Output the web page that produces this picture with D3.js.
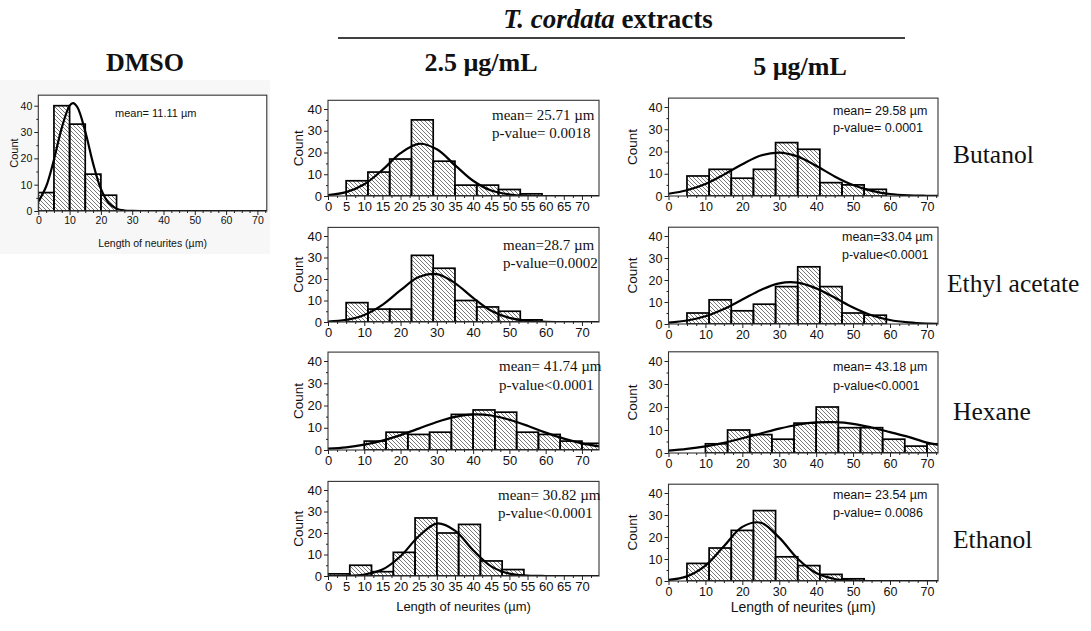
<!DOCTYPE html>
<html>
<head>
<meta charset="utf-8">
<script src="https://cdn.jsdelivr.net/npm/d3@7"></script>
<style>
  body { margin: 0; background: #fff; }
  text { fill: #111; }
</style>
</head>
<body>
<svg id="chart" width="1091" height="631"></svg>
<script>
// ---- data ----
const rowNames = ['Butanol', 'Ethyl acetate', 'Hexane', 'Ethanol'];

// fitted curve sample points (x in µm), one value per curveX
const curveX = [0, 5, 10, 15, 20, 25, 30, 35, 40, 45, 50, 55, 60, 65, 70, 75];

const dmsoBinStart = 0;
const dmsoBinWidth = 5;
const dmsoCounts = [7, 40, 33, 14, 6];
const dmsoCurveX = [0, 2.5, 5, 7.5, 10, 11.1, 12.5, 15, 17.5, 20, 22.5, 25, 27.5, 30, 35, 45, 55, 65, 75];
const dmsoCurveY = [3.5, 9.3, 19.5, 31.6, 40.0, 41.0, 39.4, 30.2, 18.1, 8.4, 3.0, 0.9, 0.2, 0.03, 0, 0, 0, 0, 0];
const dmsoMean = 'mean= 11.11 µm';

const binWidth = 6;

// 2.5 µg/mL
const binStarts25 = [5, 5, 10, 0];
const counts25 = [
  [7, 11, 17, 35, 16, 5, 5, 3, 1],
  [9, 6, 6, 31, 25, 10, 7, 5, 1],
  [4, 8, 7, 8, 16, 18, 17, 8, 7, 4, 3],
  [1, 5, 2, 11, 27, 20, 24, 7, 3]
];
const curves25 = [
  [0.4, 1.8, 5.4, 12.0, 19.7, 24.0, 21.5, 14.2, 7.0, 2.5, 0.7, 0.1, 0, 0, 0, 0],
  [0.2, 1.0, 3.3, 8.0, 14.8, 20.9, 22.3, 18.1, 11.2, 5.2, 1.9, 0.5, 0.1, 0, 0, 0],
  [0.6, 1.2, 2.4, 4.2, 6.7, 9.6, 12.6, 14.9, 16.0, 15.5, 13.6, 10.9, 7.8, 5.1, 3.0, 1.6],
  [0, 0.1, 0.7, 3.0, 9.2, 18.5, 24.4, 21.1, 12.0, 4.5, 1.1, 0.2, 0, 0, 0, 0]
];
const meanText25 = ['mean= 25.71 µm', 'mean=28.7 µm', 'mean= 41.74 µm', 'mean= 30.82 µm'];
const pText25 = ['p-value= 0.0018', 'p-value=0.0002', 'p-value<0.0001', 'p-value<0.0001'];

// 5 µg/mL
const binStarts5 = [5, 5, 10, 5];
const counts5 = [
  [9, 12, 8, 12, 24, 21, 6, 5, 3],
  [5, 11, 6, 9, 17, 26, 17, 5, 4],
  [4, 10, 8, 6, 13, 20, 11, 11, 6, 3, 4],
  [8, 15, 23, 32, 11, 7, 3, 1]
];
const curves5 = [
  [1.0, 2.6, 5.4, 9.6, 14.3, 18.2, 19.5, 17.7, 13.6, 8.8, 4.9, 2.3, 0.9, 0.3, 0.1, 0],
  [0.6, 1.6, 3.5, 6.8, 11.1, 15.5, 18.5, 18.8, 16.2, 12.0, 7.5, 4.0, 1.8, 0.7, 0.2, 0.1],
  [1.0, 1.8, 2.9, 4.4, 6.4, 8.5, 10.6, 12.3, 13.3, 13.4, 12.7, 11.1, 9.1, 7.0, 4.5, 3.0],
  [0.5, 2.1, 7.0, 15.8, 24.6, 26.5, 19.7, 10.1, 3.6, 0.9, 0.2, 0, 0, 0, 0, 0]
];
const meanText5 = ['mean= 29.58 µm', 'mean=33.04 µm', 'mean= 43.18 µm', 'mean= 23.54 µm'];
const pText5 = ['p-value= 0.0001', 'p-value<0.0001', 'p-value<0.0001', 'p-value= 0.0086'];

const yTicks = [0, 10, 20, 30, 40];
const xTicks5 = d3.range(0, 75, 5);
const xTicks10 = d3.range(0, 75, 10);

// ---- drawing ----
const svg = d3.select('#chart');
const SANS = 'Liberation Sans, Arial, sans-serif';
const SERIF = 'Liberation Serif, Times New Roman, serif';

const defs = svg.append('defs');
defs.append('pattern')
  .attr('id', 'hatch')
  .attr('patternUnits', 'userSpaceOnUse')
  .attr('width', 4).attr('height', 4)
  .append('path')
  .attr('d', 'M-1,-1L5,5M3,-1L5,1M-1,3L1,5')
  .attr('stroke', '#555').attr('stroke-width', 0.8);

let clipId = 0;

function drawPanel(o) {
  const x = d3.scaleLinear().domain([0, o.xMax]).range([o.left, o.right]);
  const y = d3.scaleLinear().domain([0, 40]).range([o.y0, o.y40]);
  const top = y(44);
  const g = svg.append('g');

  const cid = 'clip' + (clipId++);
  defs.append('clipPath').attr('id', cid)
    .append('rect')
    .attr('x', o.left).attr('y', top)
    .attr('width', o.right - o.left).attr('height', o.y0 - top);

  g.append('rect')
    .attr('x', o.left).attr('y', top)
    .attr('width', o.right - o.left).attr('height', o.y0 - top)
    .attr('fill', '#fff');

  const plot = g.append('g').attr('clip-path', 'url(#' + cid + ')');

  plot.selectAll('rect.bar')
    .data(o.counts)
    .join('rect')
    .attr('class', 'bar')
    .attr('x', (d, i) => x(o.binStart + i * o.binWidth))
    .attr('width', x(o.binWidth) - x(0))
    .attr('y', d => y(d))
    .attr('height', d => o.y0 - y(d))
    .attr('fill', 'url(#hatch)')
    .attr('stroke', '#000')
    .attr('stroke-width', 1.7);

  const line = d3.line()
    .x((d, i) => x(o.curveX[i]))
    .y(d => y(d))
    .curve(d3.curveCatmullRom.alpha(0.5));
  plot.append('path')
    .attr('d', line(o.curveY))
    .attr('fill', 'none')
    .attr('stroke', '#000')
    .attr('stroke-width', 2.2);

  // frame
  g.append('rect')
    .attr('x', o.left).attr('y', top)
    .attr('width', o.right - o.left).attr('height', o.y0 - top)
    .attr('fill', 'none')
    .attr('stroke', '#333').attr('stroke-width', 1.1);

  // x axis
  const xa = g.append('g').attr('transform', `translate(0,${o.y0})`)
    .call(d3.axisBottom(x).tickValues(o.xTicks).tickSize(4).tickSizeOuter(0).tickPadding(2).tickFormat(d3.format('d')));
  g.append('g').attr('transform', `translate(0,${o.y0})`)
    .call(d3.axisBottom(x).tickValues(d3.range(0, o.xMax, 2.5).filter(v => !o.xTicks.includes(v))).tickSize(2).tickSizeOuter(0).tickFormat(''))
    .call(a => a.select('.domain').remove());
  xa.select('.domain').remove();
  xa.selectAll('text').attr('font-family', SANS).attr('font-size', o.tickFont).attr('fill', '#111');

  // y axis
  const ya = g.append('g').attr('transform', `translate(${o.left},0)`)
    .call(d3.axisLeft(y).tickValues(yTicks).tickSize(4).tickSizeOuter(0).tickPadding(2));
  g.append('g').attr('transform', `translate(${o.left},0)`)
    .call(d3.axisLeft(y).tickValues([5, 15, 25, 35]).tickSize(2).tickFormat(''))
    .call(a => a.select('.domain').remove());
  ya.select('.domain').remove();
  ya.selectAll('text').attr('font-family', SANS).attr('font-size', o.tickFont).attr('fill', '#111');
  g.selectAll('.tick line').attr('stroke', '#222');

  // Count label
  g.append('text')
    .attr('transform', `translate(${o.countX},${(top + o.y0) / 2}) rotate(-90)`)
    .attr('text-anchor', 'middle')
    .attr('dominant-baseline', 'central')
    .attr('font-family', SANS)
    .attr('font-size', o.countFont)
    .text('Count');

  // annotation
  o.notes.forEach(n => {
    g.append('text')
      .attr('x', n.x).attr('y', n.y)
      .attr('font-family', n.font).attr('font-size', n.size)
      .text(n.text);
  });

  if (o.xTitle) {
    g.append('text')
      .attr('x', (o.left + o.right) / 2).attr('y', o.xTitle.y)
      .attr('text-anchor', 'middle')
      .attr('font-family', SANS).attr('font-size', o.xTitle.size)
      .text('Length of neurites (µm)');
  }
}

// DMSO panel background
svg.append('rect').attr('x', 0).attr('y', 80).attr('width', 270).attr('height', 174).attr('fill', '#f7f7f7');

drawPanel({
  left: 38.3, right: 38.3 + 73 * 3.13, xMax: 73, y0: 211, y40: 105.7,
  binStart: dmsoBinStart, binWidth: dmsoBinWidth, counts: dmsoCounts,
  curveX: dmsoCurveX, curveY: dmsoCurveY,
  xTicks: xTicks10, tickFont: 10.5, countX: 14, countFont: 11,
  notes: [{ x: 115, y: 117, text: dmsoMean, font: SANS, size: 11 }],
  xTitle: { y: 247, size: 10.5 }
});

const rows25 = [[109, 196], [236, 322], [361, 450], [490, 576]];
const rows5 = [[107, 196], [236, 324], [361, 453], [493, 581]];
const notePos25 = [[492, 120, 138], [503, 250, 268], [499, 371, 390], [498, 500, 518]];
const notePos5 = [[833, 115, 132], [842, 241, 259], [833, 371, 390], [833, 499, 517]];

rowNames.forEach((name, r) => {
  drawPanel({
    left: 328, right: 599, xMax: 74.7, y0: rows25[r][1], y40: rows25[r][0],
    binStart: binStarts25[r], binWidth: binWidth, counts: counts25[r],
    curveX: curveX, curveY: curves25[r],
    xTicks: (r === 0 || r === 3) ? xTicks5 : xTicks10, tickFont: 13, countX: 298, countFont: 13.5,
    notes: [
      { x: notePos25[r][0], y: notePos25[r][1], text: meanText25[r], font: SERIF, size: 15 },
      { x: notePos25[r][0], y: notePos25[r][2], text: pText25[r], font: SERIF, size: 15 }
    ],
    xTitle: r === 3 ? { y: 611, size: 13 } : null
  });
  drawPanel({
    left: 668.5, right: 938, xMax: 73, y0: rows5[r][1], y40: rows5[r][0],
    binStart: binStarts5[r], binWidth: binWidth, counts: counts5[r],
    curveX: curveX, curveY: curves5[r],
    xTicks: xTicks10, tickFont: 12.5, countX: 632, countFont: 13.5,
    notes: [
      { x: notePos5[r][0], y: notePos5[r][1], text: meanText5[r], font: SANS, size: 12.5 },
      { x: notePos5[r][0], y: notePos5[r][2], text: pText5[r], font: SANS, size: 12.5 }
    ],
    xTitle: r === 3 ? { y: 612, size: 14 } : null
  });
  svg.append('text')
    .attr('x', r === 1 ? 947 : 953).attr('y', [163, 292, 420, 548][r])
    .attr('font-family', SERIF).attr('font-size', 25.5)
    .text(name);
});

// headers
const head = svg.append('text')
  .attr('x', 608).attr('y', 28)
  .attr('text-anchor', 'middle')
  .attr('font-family', SERIF).attr('font-size', 27).attr('font-weight', 'bold');
head.append('tspan').attr('font-style', 'italic').text('T. cordata');
head.append('tspan').text(' extracts');

svg.append('line').attr('x1', 338).attr('x2', 905).attr('y1', 38).attr('y2', 38)
  .attr('stroke', '#000').attr('stroke-width', 1.5);

[['DMSO', 145, 71], ['2.5 µg/mL', 481, 71], ['5 µg/mL', 800, 75]].forEach(h => {
  svg.append('text')
    .attr('x', h[1]).attr('y', h[2])
    .attr('text-anchor', 'middle')
    .attr('font-family', SERIF).attr('font-size', 26).attr('font-weight', 'bold')
    .text(h[0]);
});
</script>
</body>
</html>
